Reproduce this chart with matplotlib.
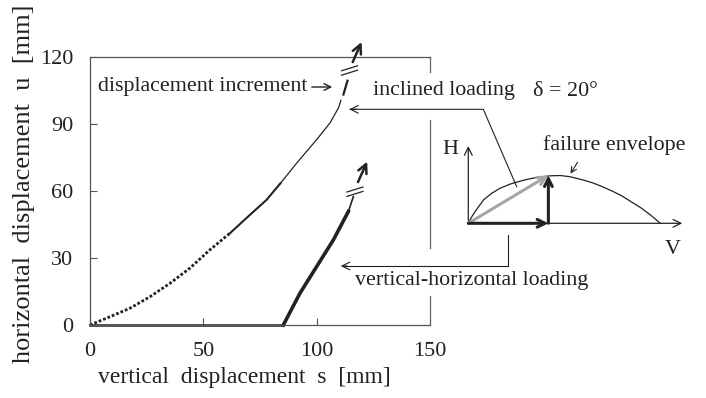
import numpy as np
import matplotlib.pyplot as plt

plt.rcParams['font.family'] = ['Liberation Serif', 'DejaVu Serif']

# --- datos ---
# carga inclinada (delta = 20 deg)
incl_s = [0, 8.8, 17.6, 26.5, 35.3, 44.1, 52.9, 61.8, 70.6, 77.9, 84.0, 91.2, 100.0, 105.9, 109.6, 110.7]
incl_u = [0, 3.7, 7.5, 12.7, 18.7, 25.5, 33.7, 41.2, 49.4, 56.1, 63.5, 72.6, 83.1, 90.6, 97.3, 100.7]
incl_tail_s = [111.8, 113.6]
incl_tail_u = [103.3, 109.5]
incl_arrow = [(115.4, 116.7), (120.3, 128.0)]

# carga vertical-horizontal
vh_s = [0, 85.3, 92.6, 100.0, 107.4, 114.0]
vh_u = [0, 0, 14.2, 26.2, 38.2, 50.9]
vh_tail_s = [114.0, 116.2]
vh_tail_u = [50.9, 57.6]
vh_arrow = [(117.7, 62.9), (122.8, 74.4)]

x_ticks = [0, 50, 100, 150]
y_ticks = [0, 30, 60, 90, 120]

# envolvente de falla (esquema V-H, normalizado)
env_v = [0, 0.02, 0.04, 0.08, 0.12, 0.165, 0.22, 0.29, 0.36, 0.43, 0.48, 0.53,
         0.60, 0.65, 0.70, 0.75, 0.80, 0.86, 0.90, 0.95, 1.0]
env_h = [0, 0.15, 0.27, 0.49, 0.62, 0.73, 0.82, 0.90, 0.96, 0.99, 0.995, 0.97,
         0.90, 0.84, 0.76, 0.67, 0.57, 0.42, 0.32, 0.17, 0]
load_v, load_h = 0.417, 1.0

W, H = 706, 398
fig = plt.figure(figsize=(W / 100, H / 100), dpi=100)

def px(x0, y0, x1, y1):
    return [x0 / W, 1 - y1 / H, (x1 - x0) / W, (y1 - y0) / H]

ax = fig.add_axes(px(90, 57.3, 430, 325))
ax.set_xlim(0, 150)
ax.set_ylim(0, 120)
ax.set_xticks(x_ticks)
ax.set_yticks(y_ticks)
ax.tick_params(direction='in', length=5, width=0.8, labelsize=16, pad=12,
               colors='#555555', labelcolor='#222222')
ax.spines['right'].set_visible(False)
for sp in ax.spines.values():
    sp.set_linewidth(0.9)
    sp.set_color('#555555')

# borde derecho con huecos
for y0, y1 in [(120, 113.5), (92, 34.5), (12.9, 0)]:
    ax.plot([150, 150], [y0, y1], color='#666666', lw=0.9, clip_on=False)

# curva inclinada
ax.plot(incl_s[:8], incl_u[:8], color='#222222', lw=2.0, ls=(0, (1.0, 0.7)), clip_on=False)
ax.plot(incl_s[7:11], incl_u[7:11], color='#222222', lw=1.5, clip_on=False)
ax.plot(incl_s[10:], incl_u[10:], color='#222222', lw=0.9, clip_on=False)
ax.plot(incl_tail_s, incl_tail_u, color='#222222', lw=1.6, clip_on=False)
ax.annotate('', xy=incl_arrow[1], xytext=incl_arrow[0], annotation_clip=False,
            arrowprops=dict(arrowstyle='->', lw=1.8, color='#222222', mutation_scale=16))

# curva vertical-horizontal
ax.plot(vh_s[:2], vh_u[:2], color='#222222', lw=1.8, clip_on=False)
ax.plot(vh_s[1:], vh_u[1:], color='#222222', lw=2.6, clip_on=False)
ax.plot(vh_tail_s, vh_tail_u, color='#222222', lw=1.2, clip_on=False)
ax.annotate('', xy=vh_arrow[1], xytext=vh_arrow[0], annotation_clip=False,
            arrowprops=dict(arrowstyle='->', lw=1.8, color='#222222', mutation_scale=16))

# capa superpuesta en pixeles para anotaciones
ov = fig.add_axes([0, 0, 1, 1])
ov.set_xlim(0, W)
ov.set_ylim(H, 0)
ov.axis('off')
ov.patch.set_alpha(0)

# simbolos de corte
for cx, cy in [(349.5, 70.5), (355.0, 191.7)]:
    for dy in (-2.2, 2.2):
        ov.plot([cx - 8, cx + 8], [cy + dy + 2.5, cy + dy - 2.5], color='#222222', lw=0.9)

ov.text(244, 378, 'vertical  displacement  s  [mm]', fontsize=17, ha='center', va='center',
        color='#222222')
ov.text(24, 184, 'horizontal  displacement  u  [mm]', fontsize=19, ha='center', va='center',
        rotation=90, color='#222222')

ov.text(98, 87, 'displacement increment', fontsize=15.8, ha='left', va='center', color='#222222')
ov.annotate('', xy=(335, 87), xytext=(309, 87),
            arrowprops=dict(arrowstyle='->', lw=1.0, color='#222222', mutation_scale=12))

ov.text(373, 91, 'inclined loading', fontsize=15.8, ha='left', va='center', color='#222222')
ov.text(533, 91, 'δ = 20°', fontsize=15.8, ha='left', va='center', color='#222222')
ov.plot([516.7, 483.3, 350], [186.7, 109.3, 109.3], color='#222222', lw=0.8)
ov.annotate('', xy=(346.5, 109.3), xytext=(360, 109.3),
            arrowprops=dict(arrowstyle='->', lw=0.8, color='#222222', mutation_scale=14))

ov.text(355, 280, 'vertical-horizontal loading', fontsize=15.8, ha='left', va='center',
        color='#222222')
ov.plot([508.3, 508.3, 342], [235, 266, 266], color='#222222', lw=0.8)
ov.annotate('', xy=(338, 266), xytext=(350, 266),
            arrowprops=dict(arrowstyle='->', lw=0.8, color='#222222', mutation_scale=14))

# esquema V-H
x0, y0, vs, hs = 468.3, 223.3, 192.0, 48.0
ev = np.array(env_v) * vs + x0
eh = y0 - np.array(env_h) * hs
ov.annotate('', xy=(685, y0), xytext=(x0, y0),
            arrowprops=dict(arrowstyle='->', lw=0.9, color='#222222', mutation_scale=14))
ov.annotate('', xy=(x0, 143.3), xytext=(x0, y0),
            arrowprops=dict(arrowstyle='->', lw=0.9, color='#222222', mutation_scale=14))
ov.plot(ev, eh, color='#222222', lw=0.9)
lx, ly = x0 + load_v * vs, y0 - load_h * hs
ov.annotate('', xy=(lx, ly), xytext=(x0, y0),
            arrowprops=dict(arrowstyle='->', lw=2.2, color='#a6a6a6', mutation_scale=14,
                            shrinkA=0, shrinkB=0))
ov.annotate('', xy=(lx, y0), xytext=(x0, y0),
            arrowprops=dict(arrowstyle='->', lw=2.2, color='#222222', mutation_scale=14,
                            shrinkA=0, shrinkB=0))
ov.annotate('', xy=(lx, ly), xytext=(lx, y0),
            arrowprops=dict(arrowstyle='->', lw=2.2, color='#222222', mutation_scale=14,
                            shrinkA=0, shrinkB=0))
ov.text(450, 150, 'H', fontsize=15.8, ha='center', va='center', color='#222222')
ov.text(672.7, 250, 'V', fontsize=15.8, ha='center', va='center', color='#222222')
ov.text(614, 145, 'failure envelope', fontsize=15.8, ha='center', va='center', color='#222222')
ov.annotate('', xy=(569, 176), xytext=(579, 160),
            arrowprops=dict(arrowstyle='->', lw=0.8, color='#222222', mutation_scale=10))

fig.savefig('out.png', dpi=100)
